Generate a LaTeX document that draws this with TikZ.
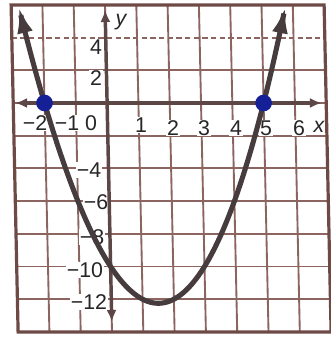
\documentclass[tikz,border=0pt]{standalone}
\usepackage{fontspec}
\setmainfont{Liberation Sans}
\usetikzlibrary{arrows.meta}
\definecolor{gridc}{RGB}{140,100,96}
\definecolor{borderc}{RGB}{110,74,70}
\definecolor{axisc}{RGB}{92,70,70}
\definecolor{curvec}{RGB}{70,60,62}
\definecolor{dotc}{RGB}{22,32,150}
\begin{document}
\begin{tikzpicture}[x=23.475pt, y=12.2625pt,
  gridline/.style={draw=gridc, line width=1.4pt},
  gridborder/.style={draw=borderc, line width=2.4pt},
  axisline/.style={draw=axisc, line width=2.6pt, {Latex[length=9pt,width=7.5pt]}-{Latex[length=9pt,width=7.5pt]}},
  curveline/.style={draw=curvec, line width=3.8pt, line cap=round, {Latex[length=20pt,width=12pt]}-{Latex[length=20pt,width=12pt]}},
  lbl/.style={font=\fontsize{16}{16}\selectfont, text=black!85, fill=white, inner sep=0.5pt},
  ptdot/.style={circle, fill=dotc, inner sep=0pt, minimum size=12.5pt}]
\useasboundingbox[fill=white] (-3.422,-14.434) rectangle (7.153,6.300);
\begin{scope}[xslant=-0.0214]
  \foreach \i in {-2,-1,0,1,2,3,4,5,6} \draw[gridline] (\i,-14) -- (\i,6);
  \foreach \j in {-12,-10,-8,-6,-4,-2,0,2} \draw[gridline] (-3,\j) -- (7,\j);
  \draw[gridline, dash pattern=on 4pt off 2.5pt] (-3,4) -- (7,4);
  \draw[gridborder] (-3,-14) rectangle (7,6);
\end{scope}
% labels
\node[lbl] (ly4) at (-0.355, 3.425) {4};
\node[lbl] (ly2) at (-0.355, 1.529) {2};
\node[lbl, font=\fontsize{16}{16}\selectfont\itshape] (ly) at (0.444, 4.954) {y};
\node[lbl] (lym4) at (-0.578, -4.098) {−4};
\node[lbl] (lym6) at (-0.355, -6.055) {−6};
\node[lbl] (lym8) at (-0.482, -8.196) {−8};
\node[lbl] (lym10) at (-0.706, -10.214) {−10};
\node[lbl] (lym12) at (-0.578, -12.171) {−12};
\node[lbl] (lxm2) at (-2.303, -1.223) {−2};
\node[lbl] (lxm1) at (-1.281, -1.223) {−1};
\node[lbl] (lx0) at (-0.514, -1.223) {0};
\node[lbl] (lx1) at (1.083, -1.346) {1};
\node[lbl] (lx2) at (2.105, -1.529) {2};
\node[lbl] (lx3) at (3.096, -1.529) {3};
\node[lbl] (lx4) at (4.118, -1.529) {4};
\node[lbl] (lx5) at (5.077, -1.529) {5};
\node[lbl] (lx6) at (6.131, -1.529) {6};
\node[lbl, font=\fontsize{16}{16}\selectfont\itshape] (lx) at (6.770, -1.468) {x};
\begin{scope}[xslant=-0.0214]
  \coordinate (xl) at (-2.94,0);
  \coordinate (xr) at (6.86,0);
  \coordinate (yt) at (0,5.69);
  \coordinate (yb) at (0,-13.39);
  \draw[axisline] (xl) -- (xr);
  \draw[axisline] (yb) -- (yt);
  \draw[curveline] plot[domain=-2.76:5.76, samples=120, smooth] (\x,{\x*\x-3*\x-10});
  \node[ptdot] (r1) at (-2,0) {};
  \node[ptdot] (r2) at (5,0) {};
\end{scope}
\end{tikzpicture}
\end{document}
